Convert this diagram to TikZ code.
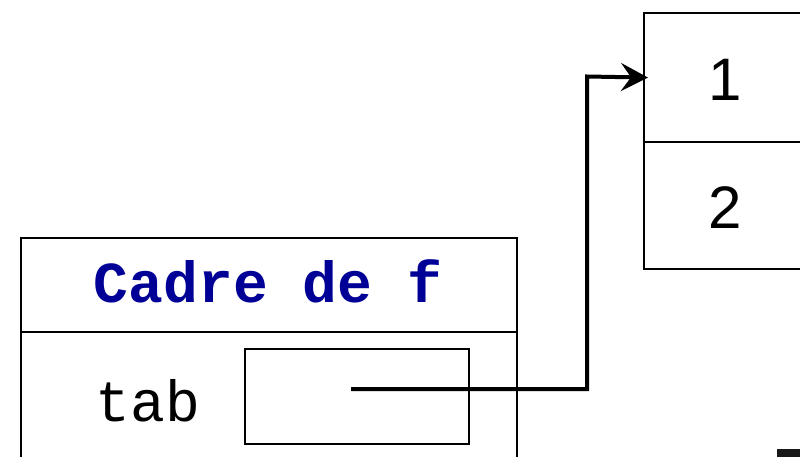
\documentclass[tikz,border=0pt]{standalone}
\usepackage{fontspec}
\setmainfont{Liberation Sans}
\newfontfamily\codefont{Liberation Mono}
\usetikzlibrary{arrows.meta}
\definecolor{titleblue}{RGB}{0,0,150}
\definecolor{darkbar}{RGB}{25,25,25}
\tikzset{
  thinbox/.style={draw=black, line width=2pt, rectangle, inner sep=0pt, anchor=north west},
  title/.style={font=\codefont\bfseries\fontsize{58}{60}\selectfont, text=titleblue, anchor=base, inner sep=0pt},
  varname/.style={font=\codefont\fontsize{58}{60}\selectfont, anchor=base, inner sep=0pt},
  cellval/.style={font=\fontsize{60}{62}\selectfont, anchor=base, inner sep=0pt},
  pointer/.style={draw=black, line width=4pt, shorten >=-5pt,
    -{Stealth[length=27pt, width=28pt, inset=10pt]}},
}
\begin{document}
\begin{tikzpicture}[x=1pt, y=-1pt]
  \useasboundingbox (0,0) rectangle (800,457);
  \clip (0,0) rectangle (800,457);
  % stack frame of f
  \node[thinbox, minimum width=496pt, minimum height=260pt] (frame) at (20,237) {};
  \coordinate (sepL) at (20,332);
  \coordinate (sepR) at (516,332);
  \draw[line width=2pt] (sepL) -- (sepR);
  \node[title] (ftitle) at (268,302) {Cadre de f};
  \node[varname] (tab) at (148,421) {tab};
  \node[thinbox, minimum width=224pt, minimum height=95pt] (cell) at (244,348) {};
  \coordinate (ref) at (351,389);
  % array on the heap
  \node[thinbox, minimum width=200pt, minimum height=129pt] (c1) at (643,12) {};
  \node[thinbox, minimum width=200pt, minimum height=127pt] (c2) at (643,141) {};
  \node[cellval] (v1) at (725,101) {1};
  \node[cellval] (v2) at (725,228) {2};
  \coordinate (bend) at (587,76.5);
  \draw[pointer] (ref) -| (bend) -- (c1.west);
  % partly visible block at the lower right
  \fill[darkbar] (777,449) rectangle (820,470);
\end{tikzpicture}
\end{document}
